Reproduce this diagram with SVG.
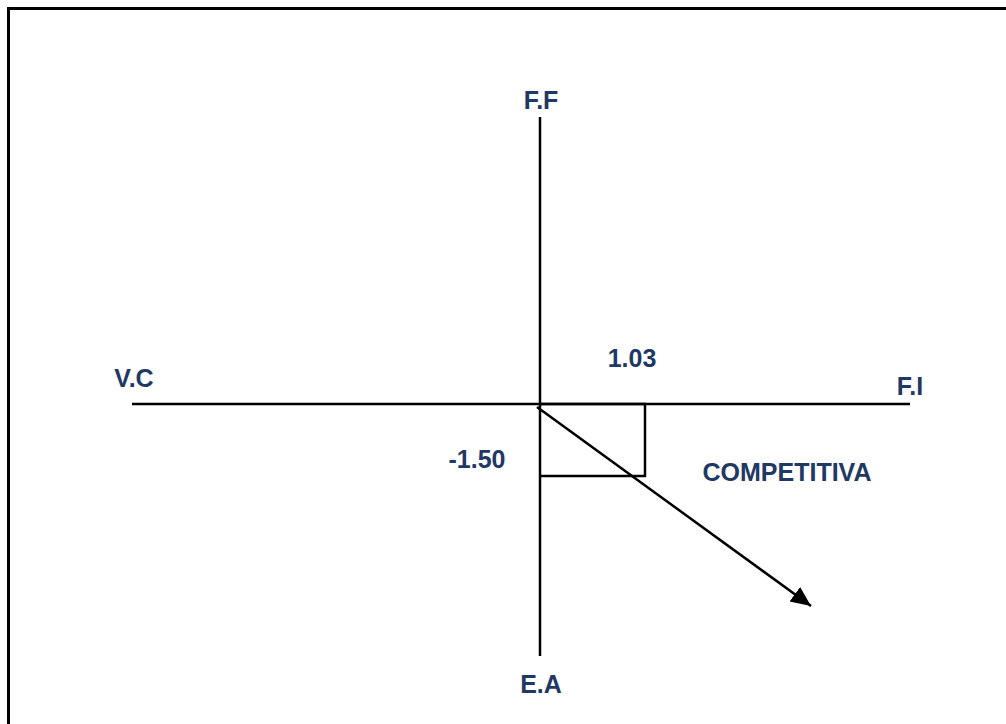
<svg xmlns="http://www.w3.org/2000/svg" width="1006" height="724" viewBox="0 0 1006 724">
<style>
.lbl{font-family:"Liberation Sans",Arial,sans-serif;font-weight:bold;font-size:25px;fill:#1F3864;text-anchor:middle}
.ln{stroke:#000;stroke-width:2.5;fill:none}
</style>
<defs>
<marker id="ah" markerUnits="userSpaceOnUse" markerWidth="24" markerHeight="20" refX="20" refY="9" orient="auto">
<path d="M0,0 L20,9 L0,18 Z" fill="#000"/>
</marker>
</defs>
<rect x="0" y="0" width="1006" height="724" fill="#fff"/>
<rect x="8.5" y="8.5" width="1010" height="730" fill="none" stroke="#000" stroke-width="3"/>
<g id="connectors">
<line class="ln" x1="540" y1="117" x2="540" y2="656"/>
<line class="ln" x1="132" y1="404" x2="910" y2="404"/>
<polyline class="ln" points="540,404 645,404 645,476 540,476"/>
<line class="ln" x1="537" y1="407" x2="811" y2="606" marker-end="url(#ah)"/>
</g>
<g id="n-ff"><text class="lbl" x="541" y="109">F.F</text></g>
<g id="n-vc"><text class="lbl" x="134" y="387">V.C</text></g>
<g id="n-103"><text class="lbl" x="632" y="367">1.03</text></g>
<g id="n-fi"><text class="lbl" x="910" y="395">F.I</text></g>
<g id="n-comp"><text class="lbl" x="787" y="481">COMPETITIVA</text></g>
<g id="n-150"><text class="lbl" x="477" y="468">-1.50</text></g>
<g id="n-ea"><text class="lbl" x="541" y="693">E.A</text></g>
</svg>
